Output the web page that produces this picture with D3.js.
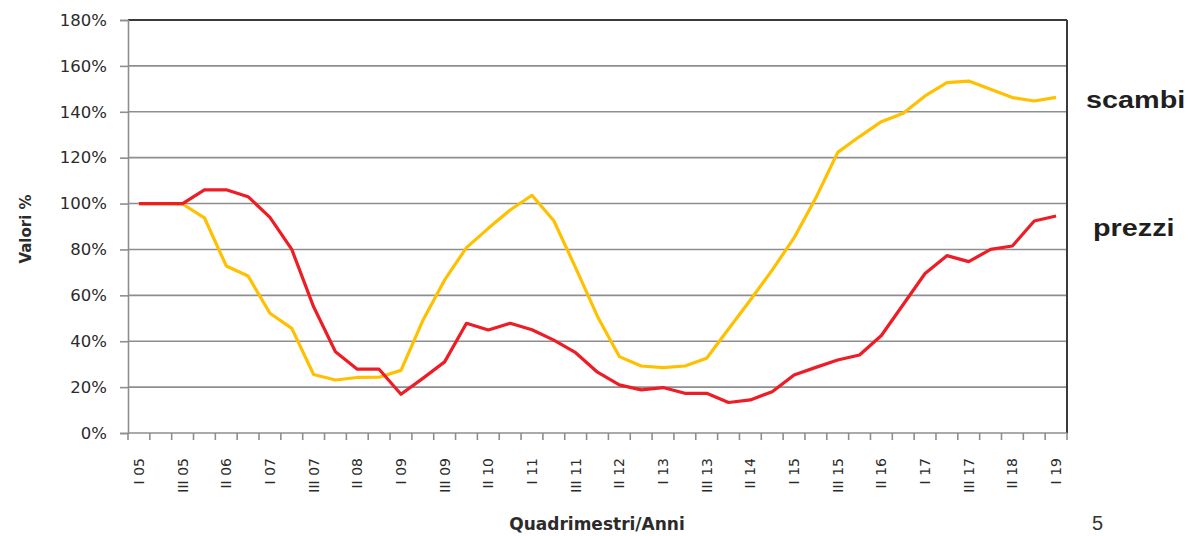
<!DOCTYPE html>
<html>
<head>
<meta charset="utf-8">
<script src="https://cdn.jsdelivr.net/npm/d3@7"></script>
<style>
  body { margin: 0; background: #fff; }
  svg { display: block; font-family: "DejaVu Sans", sans-serif; }
</style>
</head>
<body>
<svg id="graph" width="1189" height="536"></svg>
<script>
// quadrimestri dal I 05 al I 19
const anni = d3.range(5, 20).map(a => String(a).padStart(2, "0"));
const quadrimestri = [];
anni.forEach(a => ["I", "II", "III"].forEach(q => quadrimestri.push(q + " " + a)));
quadrimestri.splice(43); // fino a I 19

const prezzi = [100, 100, 100, 106, 106, 103, 94, 80, 55, 35.4, 27.8, 27.8, 16.9, 23.8, 31,
  47.8, 44.9, 47.8, 45, 40.5, 35, 26.5, 21, 18.8, 19.8, 17.3, 17.3, 13.3, 14.4, 18, 25.3,
  28.6, 31.8, 34, 42.5, 56, 69.5, 77.3, 74.7, 80, 81.5, 92.4, 94.6];

const scambi = [100, 100, 99.8, 93.8, 72.8, 68.4, 52.2, 45.6, 25.5, 23.1, 24.2, 24.3, 27.3,
  49, 66.7, 80.8, 89.2, 97.2, 103.6, 92.5, 72, 50.8, 33.3, 29.2, 28.5, 29.2, 32.6, 45.3,
  58, 71, 85, 102.5, 122.3, 129.2, 135.7, 139.4, 146.9, 152.7, 153.4, 149.8, 146.2, 144.7, 146.3];

const yTicks = d3.range(0, 181, 20);

const margine = { left: 128, right: 1067, top: 20, bottom: 433 };
const svg = d3.select("#graph");

const x = d3.scaleBand().domain(quadrimestri).range([margine.left, margine.right]);
const y = d3.scaleLinear().domain([0, 180]).range([margine.bottom, margine.top]);

// griglia orizzontale
svg.append("g")
  .selectAll("line")
  .data(yTicks.filter(d => d > 0))
  .enter().append("line")
  .attr("x1", margine.left)
  .attr("x2", margine.right)
  .attr("y1", d => y(d))
  .attr("y2", d => y(d))
  .attr("stroke", d => d === 180 ? "#3a3a3a" : "#8e8e8e")
  .attr("stroke-width", d => d === 180 ? 2 : 1.6);

// bordo destro
svg.append("line")
  .attr("x1", margine.right).attr("x2", margine.right)
  .attr("y1", margine.top).attr("y2", margine.bottom)
  .attr("stroke", "#3a3a3a").attr("stroke-width", 2);

// asse y
const assey = svg.append("g")
  .attr("transform", `translate(${margine.left},0)`)
  .call(d3.axisLeft(y).tickValues(yTicks).tickSize(8).tickFormat(d => d + "%"));
assey.select(".domain").attr("stroke", "#8e8e8e").attr("stroke-width", 1.6);
assey.selectAll(".tick line").attr("stroke", "#8e8e8e").attr("stroke-width", 1.6);
assey.selectAll("text")
  .attr("x", -21)
  .attr("fill", "#2b2b2b")
  .style("font-family", "'DejaVu Sans', sans-serif")
  .style("font-size", "16.5px");

// asse x: tacche ai confini delle categorie
const confini = d3.range(0, quadrimestri.length + 1).map(i => margine.left + i * x.bandwidth());
svg.append("line")
  .attr("x1", margine.left).attr("x2", margine.right)
  .attr("y1", margine.bottom).attr("y2", margine.bottom)
  .attr("stroke", "#8e8e8e").attr("stroke-width", 1.6);
svg.append("g")
  .selectAll("line")
  .data(confini)
  .enter().append("line")
  .attr("x1", d => d).attr("x2", d => d)
  .attr("y1", margine.bottom).attr("y2", margine.bottom + 7)
  .attr("stroke", "#8e8e8e").attr("stroke-width", 1.6);

// etichette ogni due quadrimestri
svg.append("g")
  .selectAll("text")
  .data(quadrimestri.filter((d, i) => i % 2 === 0))
  .enter().append("text")
  .attr("transform", d => `translate(${x(d) + x.bandwidth() / 2},458) rotate(-90)`)
  .attr("dy", "0.36em")
  .attr("text-anchor", "end")
  .attr("fill", "#2b2b2b")
  .style("font-size", "14px")
  .text(d => d);

// linee
const linea = d3.line()
  .x((d, i) => x(quadrimestri[i]) + x.bandwidth() / 2)
  .y(d => y(d));

svg.append("path")
  .datum(scambi)
  .attr("d", linea)
  .attr("fill", "none")
  .attr("stroke", "#FFC000")
  .attr("stroke-width", 3.2)
  .attr("stroke-linejoin", "round");

svg.append("path")
  .datum(prezzi)
  .attr("d", linea)
  .attr("fill", "none")
  .attr("stroke", "#EE1C25")
  .attr("stroke-width", 3.2)
  .attr("stroke-linejoin", "round");

// etichette serie (testo leggermente allargato come nell'originale)
svg.append("text")
  .attr("transform", "translate(1086,108) scale(1.2,1)")
  .style("font-family", "'Liberation Sans', Arial, sans-serif")
  .style("font-size", "24px").style("font-weight", "bold")
  .attr("fill", "#1f1f1f")
  .text("scambi");
svg.append("text")
  .attr("transform", "translate(1093,236) scale(1.2,1)")
  .style("font-family", "'Liberation Sans', Arial, sans-serif")
  .style("font-size", "24px").style("font-weight", "bold")
  .attr("fill", "#1f1f1f")
  .text("prezzi");

// titoli assi
svg.append("text")
  .attr("transform", "translate(31,229) rotate(-90)")
  .attr("text-anchor", "middle")
  .style("font-size", "15px").style("font-weight", "bold")
  .attr("fill", "#2b2b2b")
  .text("Valori %");

svg.append("text")
  .attr("x", 597).attr("y", 530)
  .attr("text-anchor", "middle")
  .style("font-size", "17px").style("font-weight", "bold")
  .attr("fill", "#2b2b2b")
  .text("Quadrimestri/Anni");

// numero di pagina
svg.append("text")
  .attr("x", 1092).attr("y", 530)
  .style("font-family", "'Liberation Sans', Arial, sans-serif")
  .style("font-size", "20px")
  .attr("fill", "#333")
  .text("5");
</script>
</body>
</html>
